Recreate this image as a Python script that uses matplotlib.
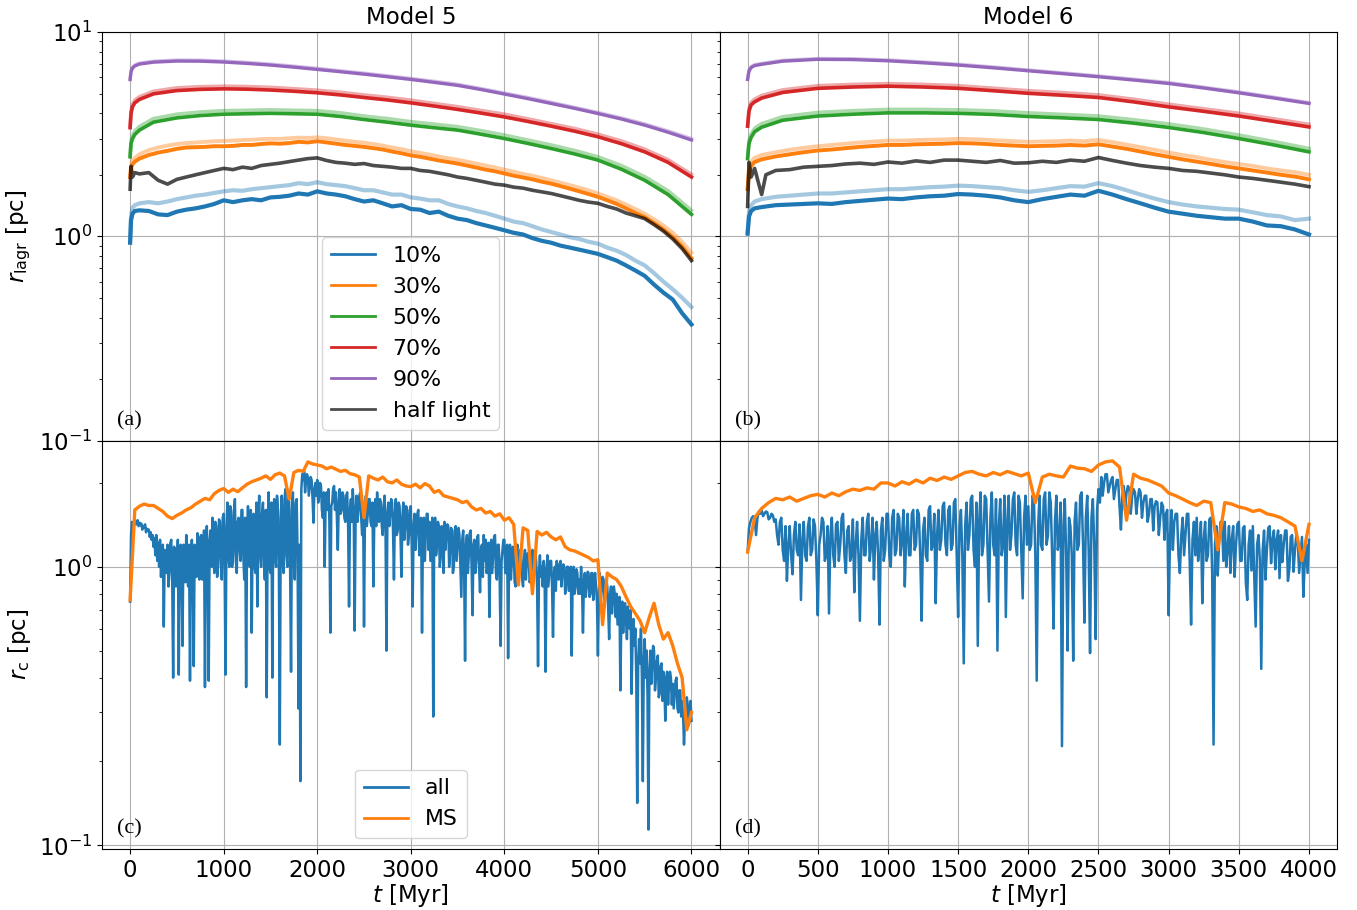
import numpy as np
import matplotlib
matplotlib.use("Agg")
import matplotlib.pyplot as plt

# ---------------- time grids ----------------
T5_FINE = [0, 10, 25, 50] + list(range(100, 6001, 100))
T5_COARSE = [0, 10, 25, 50, 100] + list(range(250, 6001, 250))
T6_FINE = [0, 10, 25, 50] + list(range(100, 4001, 100))
T6_COARSE = [0, 10, 25, 50, 100] + list(range(250, 4001, 250))
T6_HL = [0, 10, 25, 50, 75, 100, 130, 200] + list(range(300, 4001, 100))
RC_ALL_STEP = 10
RC_MS_STEP = 50

LAGR_LABELS = ["10%", "30%", "50%", "70%", "90%"]
RC_LABELS = ["all", "MS"]
TITLES = ["Model 5", "Model 6"]
PANEL_TAGS = ["(a)", "(b)", "(c)", "(d)"]

# ---------------- Model 5 Lagrangian radii ----------------
m5_r10 = [0.93, 1.20, 1.29, 1.33, 1.34, 1.33, 1.28, 1.27, 1.32, 1.35, 1.37, 1.40, 1.44, 1.50,
          1.47, 1.50, 1.52, 1.50, 1.55, 1.56, 1.58, 1.62, 1.60, 1.66, 1.62, 1.60, 1.57, 1.52,
          1.48, 1.50, 1.45, 1.40, 1.42, 1.36, 1.35, 1.30, 1.32, 1.26, 1.22, 1.20, 1.16, 1.13,
          1.10, 1.07, 1.04, 1.02, 0.98, 0.95, 0.93, 0.90, 0.88, 0.86, 0.84, 0.82, 0.79, 0.76,
          0.72, 0.68, 0.64, 0.58, 0.53, 0.49, 0.42, 0.37]
m5_r10_all = [0.95, 1.25, 1.38, 1.42, 1.45, 1.47, 1.45, 1.48, 1.52, 1.55, 1.58, 1.60, 1.63, 1.66,
              1.68, 1.67, 1.70, 1.72, 1.74, 1.76, 1.78, 1.82, 1.80, 1.84, 1.80, 1.78, 1.76, 1.72,
              1.68, 1.68, 1.64, 1.60, 1.60, 1.55, 1.53, 1.50, 1.50, 1.44, 1.40, 1.37, 1.33, 1.30,
              1.26, 1.22, 1.18, 1.16, 1.12, 1.08, 1.05, 1.02, 0.99, 0.97, 0.94, 0.92, 0.88, 0.85,
              0.81, 0.76, 0.72, 0.66, 0.60, 0.55, 0.50, 0.45]
m5_r30 = [1.95, 2.15, 2.25, 2.32, 2.40, 2.50, 2.57, 2.62, 2.68, 2.72, 2.73, 2.74, 2.76, 2.76,
          2.77, 2.80, 2.80, 2.83, 2.85, 2.84, 2.86, 2.90, 2.88, 2.92, 2.88, 2.84, 2.80, 2.77,
          2.74, 2.70, 2.66, 2.60, 2.55, 2.49, 2.45, 2.40, 2.35, 2.31, 2.27, 2.22, 2.17, 2.12,
          2.08, 2.03, 1.98, 1.94, 1.90, 1.85, 1.81, 1.76, 1.71, 1.66, 1.61, 1.56, 1.50, 1.44,
          1.37, 1.30, 1.24, 1.16, 1.08, 0.99, 0.89, 0.78]
m5_r30_all = [2.00, 2.22, 2.35, 2.42, 2.52, 2.64, 2.72, 2.78, 2.83, 2.86, 2.88, 2.90, 2.92, 2.93,
              2.94, 2.96, 2.97, 2.99, 3.00, 3.00, 3.02, 3.04, 3.03, 3.05, 3.02, 2.98, 2.94, 2.90,
              2.87, 2.83, 2.78, 2.72, 2.67, 2.61, 2.56, 2.51, 2.46, 2.41, 2.37, 2.32, 2.27, 2.22,
              2.17, 2.12, 2.07, 2.02, 1.98, 1.93, 1.88, 1.83, 1.78, 1.73, 1.68, 1.62, 1.56, 1.50,
              1.43, 1.36, 1.29, 1.21, 1.13, 1.04, 0.94, 0.83]
m5_rhl = [1.70, 2.20, 1.95, 2.05, 2.02, 2.05, 1.88, 1.80, 1.90, 1.95, 2.00, 2.05, 2.10, 2.15,
          2.12, 2.18, 2.15, 2.22, 2.25, 2.28, 2.32, 2.36, 2.40, 2.42, 2.35, 2.30, 2.28, 2.25,
          2.27, 2.22, 2.20, 2.18, 2.15, 2.15, 2.10, 2.08, 2.04, 2.00, 1.95, 1.92, 1.88, 1.84,
          1.80, 1.78, 1.74, 1.72, 1.68, 1.65, 1.62, 1.58, 1.54, 1.50, 1.47, 1.45, 1.40, 1.36,
          1.30, 1.26, 1.22, 1.14, 1.06, 0.97, 0.87, 0.76]
m5_r50 = [2.45, 2.85, 3.00, 3.15, 3.31, 3.62, 3.80, 3.90, 3.96, 3.98, 4.00, 3.98, 3.96, 3.86,
          3.73, 3.62, 3.50, 3.40, 3.31, 3.16, 3.01, 2.85, 2.69, 2.53, 2.36, 2.13, 1.88, 1.60, 1.28]
m5_r50_all = [2.50, 2.95, 3.12, 3.28, 3.45, 3.77, 3.96, 4.06, 4.12, 4.14, 4.16, 4.14, 4.12, 4.02,
              3.88, 3.77, 3.64, 3.54, 3.44, 3.29, 3.13, 2.96, 2.80, 2.63, 2.45, 2.22, 1.96, 1.67, 1.34]
m5_r70 = [3.40, 4.00, 4.30, 4.50, 4.68, 4.98, 5.17, 5.24, 5.27, 5.25, 5.20, 5.13, 5.04, 4.92,
          4.78, 4.65, 4.50, 4.34, 4.18, 4.01, 3.84, 3.65, 3.46, 3.27, 3.07, 2.84, 2.59, 2.30, 1.95]
m5_r70_all = [3.45, 4.12, 4.43, 4.64, 4.82, 5.13, 5.33, 5.40, 5.43, 5.41, 5.36, 5.28, 5.19, 5.07,
              4.92, 4.79, 4.64, 4.47, 4.31, 4.13, 3.96, 3.76, 3.56, 3.37, 3.16, 2.93, 2.67, 2.37, 2.01]
m5_r90 = [5.85, 6.40, 6.65, 6.82, 6.97, 7.12, 7.21, 7.20, 7.13, 7.02, 6.89, 6.73, 6.56, 6.39,
          6.22, 6.04, 5.86, 5.67, 5.48, 5.23, 4.97, 4.72, 4.47, 4.23, 3.99, 3.75, 3.50, 3.23, 2.96]
m5_r90_all = [5.90, 6.47, 6.72, 6.90, 7.04, 7.20, 7.29, 7.28, 7.21, 7.10, 6.97, 6.81, 6.64, 6.46,
              6.29, 6.11, 5.93, 5.74, 5.55, 5.29, 5.03, 4.78, 4.53, 4.28, 4.04, 3.80, 3.55, 3.28, 3.01]

# ---------------- Model 6 Lagrangian radii ----------------
m6_r10 = [1.03, 1.25, 1.33, 1.37, 1.39, 1.42, 1.43, 1.44, 1.45, 1.44, 1.47, 1.49, 1.51, 1.53,
          1.52, 1.55, 1.57, 1.58, 1.61, 1.60, 1.58, 1.55, 1.50, 1.47, 1.52, 1.56, 1.60, 1.58,
          1.67, 1.60, 1.52, 1.45, 1.38, 1.32, 1.29, 1.26, 1.24, 1.22, 1.22, 1.18, 1.13, 1.12,
          1.08, 1.02]
m6_r10_all = [1.05, 1.32, 1.42, 1.48, 1.52, 1.56, 1.58, 1.60, 1.62, 1.62, 1.64, 1.66, 1.68, 1.70,
              1.70, 1.72, 1.74, 1.75, 1.77, 1.76, 1.74, 1.72, 1.68, 1.65, 1.68, 1.72, 1.76, 1.75,
              1.82, 1.76, 1.68, 1.60, 1.53, 1.47, 1.43, 1.40, 1.38, 1.36, 1.35, 1.31, 1.27, 1.25,
              1.20, 1.22]
m6_r30 = [1.70, 2.05, 2.22, 2.31, 2.38, 2.46, 2.52, 2.58, 2.63, 2.66, 2.70, 2.74, 2.77, 2.80,
          2.80, 2.82, 2.83, 2.84, 2.86, 2.85, 2.83, 2.80, 2.78, 2.76, 2.77, 2.78, 2.80, 2.78,
          2.82, 2.75, 2.68, 2.60, 2.52, 2.45, 2.38, 2.32, 2.26, 2.20, 2.15, 2.10, 2.05, 2.00,
          1.96, 1.90]
m6_r30_all = [1.72, 2.12, 2.32, 2.42, 2.50, 2.58, 2.65, 2.71, 2.76, 2.80, 2.84, 2.88, 2.91, 2.94,
              2.94, 2.96, 2.97, 2.98, 3.00, 2.99, 2.97, 2.94, 2.92, 2.90, 2.91, 2.92, 2.94, 2.92,
              2.96, 2.89, 2.81, 2.73, 2.65, 2.57, 2.50, 2.44, 2.37, 2.31, 2.26, 2.21, 2.15, 2.10,
              2.06, 2.00]
m6_rhl = [1.40, 2.30, 1.95, 2.15, 1.85, 1.60, 2.00, 2.10, 2.12, 2.18, 2.20, 2.22, 2.26, 2.28,
          2.25, 2.31, 2.28, 2.34, 2.30, 2.36, 2.36, 2.33, 2.30, 2.35, 2.28, 2.29, 2.33, 2.30,
          2.36, 2.33, 2.43, 2.35, 2.28, 2.22, 2.18, 2.15, 2.10, 2.08, 2.04, 2.00, 1.95, 1.92,
          1.88, 1.84, 1.80, 1.75]
m6_r50 = [2.40, 2.85, 3.05, 3.25, 3.42, 3.70, 3.88, 3.96, 4.02, 4.02, 4.00, 3.95, 3.86, 3.80,
          3.73, 3.58, 3.41, 3.22, 3.01, 2.80, 2.59]
m6_r50_all = [2.45, 2.95, 3.17, 3.38, 3.56, 3.85, 4.04, 4.12, 4.18, 4.18, 4.16, 4.11, 4.02, 3.95,
              3.88, 3.72, 3.55, 3.35, 3.13, 2.91, 2.69]
m6_r70 = [3.46, 4.10, 4.40, 4.55, 4.75, 5.06, 5.30, 5.38, 5.43, 5.38, 5.30, 5.16, 5.01, 4.90,
          4.78, 4.55, 4.30, 4.09, 3.88, 3.65, 3.43]
m6_r70_all = [3.50, 4.22, 4.53, 4.69, 4.89, 5.21, 5.46, 5.54, 5.59, 5.54, 5.46, 5.31, 5.16, 5.05,
              4.92, 4.69, 4.43, 4.21, 4.00, 3.76, 3.53]
m6_r90 = [5.86, 6.45, 6.70, 6.85, 6.95, 7.20, 7.35, 7.33, 7.23, 7.07, 6.89, 6.68, 6.46, 6.25,
          6.04, 5.82, 5.60, 5.32, 5.04, 4.75, 4.47]
m6_r90_all = [5.92, 6.51, 6.77, 6.92, 7.02, 7.27, 7.42, 7.40, 7.30, 7.14, 6.96, 6.75, 6.52, 6.31,
              6.10, 5.88, 5.66, 5.37, 5.09, 4.80, 4.51]

# ---------------- core radii (all stars, every 10 Myr) ----------------
m5_rc_all = [
    0.75, 1.30, 1.45, 1.38, 1.40, 1.44, 1.46, 1.42, 1.47, 1.40, 1.44, 1.41, 1.43, 1.36, 1.40, 1.38, 1.42, 1.33, 1.37, 1.35,
    1.36, 1.28, 1.33, 1.25, 1.30, 1.18, 1.27, 1.10, 1.30, 1.05, 1.22, 1.00, 1.25, 0.92, 1.10, 1.20, 0.61, 1.15, 1.05, 0.95,
    1.20, 0.85, 0.95, 1.22, 1.25, 0.90, 0.40, 1.18, 1.15, 0.85, 0.90, 1.25, 0.41, 1.10, 1.20, 0.95, 0.52, 1.20, 1.10, 0.88,
    1.30, 1.00, 0.85, 1.20, 0.39, 1.10, 1.25, 0.95, 0.44, 1.20, 1.10, 0.92, 1.32, 1.00, 0.90, 1.28, 1.30, 0.90, 0.95, 1.35,
    0.37, 1.20, 1.40, 0.95, 0.39, 1.25, 1.35, 1.00, 1.50, 1.10, 0.95, 1.45, 1.40, 0.92, 1.00, 1.48, 1.45, 1.05, 0.90, 1.50,
    1.55, 1.00, 0.41, 1.40, 1.70, 1.10, 1.00, 1.65, 1.60, 1.00, 1.10, 1.55, 1.75, 1.05, 0.95, 1.45, 1.50, 1.15, 1.05, 1.60,
    1.60, 1.10, 0.90, 1.50, 0.37, 1.30, 1.65, 1.05, 1.00, 1.60, 0.58, 1.40, 1.55, 1.00, 0.95, 1.70, 0.72, 1.50, 1.80, 1.10,
    1.00, 1.55, 1.70, 1.05, 0.90, 1.60, 0.34, 1.40, 1.85, 1.00, 0.95, 1.70, 0.40, 1.50, 1.75, 1.10, 1.00, 1.80, 1.60, 1.05,
    0.23, 1.50, 1.80, 1.05, 0.95, 1.75, 1.90, 1.10, 1.00, 1.80, 1.70, 1.00, 0.42, 1.60, 1.85, 1.05, 0.90, 1.70, 1.75, 1.10,
    0.31, 1.20, 0.17, 1.90, 2.15, 2.05, 2.20, 1.85, 2.05, 2.15, 2.10, 1.80, 1.95, 2.10, 2.05, 1.75, 1.44, 1.90, 2.00, 1.80,
    2.05, 1.70, 1.80, 2.00, 1.95, 1.60, 1.50, 1.85, 1.00, 1.75, 1.85, 1.60, 1.90, 1.45, 0.58, 1.65, 1.70, 1.90, 1.95, 1.60,
    1.85, 1.50, 1.15, 1.70, 1.90, 1.55, 1.60, 1.85, 1.80, 1.50, 1.45, 1.80, 1.85, 1.40, 0.72, 1.60, 1.75, 1.45, 1.90, 1.60,
    0.59, 1.50, 1.80, 1.45, 1.60, 1.80, 1.85, 1.50, 1.30, 1.70, 0.61, 1.55, 1.80, 1.40, 1.55, 1.75, 1.75, 1.45, 1.40, 1.70,
    0.85, 1.50, 1.75, 1.40, 1.85, 1.55, 1.45, 1.75, 1.70, 1.40, 1.30, 1.65, 1.80, 1.35, 0.50, 1.55, 1.70, 1.40, 1.55, 1.75,
    1.70, 1.35, 0.90, 1.55, 1.75, 1.30, 1.35, 1.70, 1.65, 1.30, 0.92, 1.50, 1.70, 1.25, 1.40, 1.65, 1.60, 1.20, 1.30, 1.60,
    1.65, 1.20, 0.72, 1.40, 1.55, 1.15, 1.35, 1.55, 1.60, 1.10, 1.20, 1.50, 0.58, 1.35, 1.50, 1.05, 1.30, 1.55, 1.55, 1.15,
    1.45, 1.05, 1.25, 1.50, 0.29, 1.30, 1.50, 1.10, 1.20, 1.45, 1.40, 1.00, 1.10, 1.40, 1.25, 0.95, 1.45, 1.15, 1.30, 1.42,
    1.40, 1.00, 1.15, 1.38, 1.35, 0.95, 1.00, 1.35, 1.40, 1.05, 1.20, 1.38, 1.30, 1.00, 0.78, 1.25, 1.35, 1.00, 0.46, 1.20,
    1.30, 0.95, 1.10, 1.32, 1.35, 1.00, 0.67, 1.20, 1.25, 0.95, 1.05, 1.28, 1.30, 1.00, 0.81, 1.15, 1.20, 0.92, 1.30, 1.05,
    1.25, 0.95, 1.00, 1.22, 0.66, 1.10, 1.25, 0.95, 1.10, 1.28, 1.30, 0.95, 0.90, 1.20, 1.20, 0.90, 0.52, 1.05, 1.15, 1.25,
    1.25, 0.95, 0.95, 1.20, 0.47, 1.00, 1.20, 0.90, 1.05, 1.18, 1.15, 0.88, 0.85, 1.15, 1.20, 0.90, 1.00, 1.15, 1.10, 0.90,
    0.85, 1.05, 1.15, 0.90, 1.05, 1.12, 1.10, 0.88, 0.90, 1.10, 1.15, 0.90, 1.00, 1.12, 1.05, 0.85, 0.44, 0.95, 1.10, 0.92,
    1.00, 0.85, 1.05, 0.95, 0.42, 0.95, 1.10, 0.85, 0.95, 1.05, 1.05, 0.85, 0.56, 0.95, 1.00, 0.82, 1.05, 0.95, 0.90, 1.02,
    1.05, 0.85, 0.95, 1.02, 1.00, 0.80, 0.85, 1.00, 1.00, 0.82, 0.90, 1.00, 0.48, 0.90, 1.00, 0.80, 0.85, 0.98, 0.95, 0.80,
    0.90, 0.80, 1.00, 0.85, 0.58, 0.88, 0.95, 0.78, 0.85, 0.96, 0.95, 0.78, 0.80, 0.95, 0.95, 0.76, 0.90, 0.95, 0.85, 0.75,
    0.48, 0.80, 0.95, 0.75, 0.85, 0.92, 0.90, 0.72, 0.80, 0.90, 0.85, 0.70, 0.55, 0.80, 0.85, 0.68, 0.75, 0.85, 0.80, 0.66,
    0.80, 0.62, 0.70, 0.78, 0.36, 0.65, 0.75, 0.58, 0.70, 0.74, 0.65, 0.55, 0.72, 0.62, 0.60, 0.70, 0.35, 0.55, 0.65, 0.52,
    0.60, 0.40, 0.142, 0.45, 0.55, 0.45, 0.60, 0.40, 0.17, 0.45, 0.55, 0.40, 0.50, 0.35, 0.114, 0.42, 0.50, 0.38, 0.45, 0.52,
    0.50, 0.36, 0.40, 0.46, 0.48, 0.34, 0.35, 0.44, 0.45, 0.33, 0.42, 0.38, 0.28, 0.40, 0.42, 0.32, 0.38, 0.42, 0.40, 0.32,
    0.38, 0.31, 0.35, 0.39, 0.40, 0.31, 0.30, 0.36, 0.36, 0.29, 0.33, 0.30, 0.23, 0.28, 0.30, 0.34, 0.32, 0.27, 0.28, 0.33,
    0.28]
m6_rc_all = [
    1.13, 1.38, 1.45, 1.50, 1.52, 1.48, 1.30, 1.50, 1.58, 1.55, 1.60, 1.52, 1.55, 1.58, 1.57, 1.48, 1.50, 1.55, 1.53, 1.45,
    1.48, 1.30, 1.20, 1.45, 1.50, 1.15, 1.05, 1.40, 0.89, 1.20, 1.40, 1.10, 0.94, 1.30, 1.45, 1.15, 1.10, 1.42, 0.76, 1.25,
    1.45, 1.10, 1.05, 1.40, 1.50, 1.10, 1.15, 1.48, 1.40, 1.05, 0.67, 1.20, 1.30, 1.50, 1.45, 1.05, 1.10, 1.40, 0.68, 1.30,
    1.50, 1.10, 1.00, 1.42, 1.45, 1.05, 1.20, 1.50, 1.55, 1.10, 0.95, 1.35, 1.40, 1.05, 1.10, 1.48, 0.81, 1.20, 1.45, 1.10,
    0.64, 1.25, 1.50, 1.10, 1.10, 1.45, 1.55, 1.05, 1.20, 1.50, 0.90, 1.30, 1.45, 1.10, 0.62, 1.35, 1.50, 1.05, 1.15, 1.55,
    1.55, 1.10, 1.00, 1.50, 1.60, 1.10, 1.15, 1.55, 1.50, 1.10, 1.25, 1.60, 0.85, 1.30, 1.55, 1.10, 1.10, 1.55, 1.60, 1.15,
    1.20, 1.60, 1.55, 1.10, 0.64, 1.35, 1.50, 1.10, 1.05, 1.60, 1.65, 1.15, 1.20, 1.55, 0.74, 1.30, 1.60, 1.15, 1.25, 1.65,
    1.70, 1.20, 1.10, 1.60, 1.65, 1.15, 1.20, 1.70, 1.75, 1.10, 0.66, 1.40, 1.60, 1.10, 0.45, 1.40, 1.70, 1.15, 1.30, 1.75,
    1.80, 1.15, 1.00, 1.70, 0.52, 1.45, 1.85, 1.10, 1.20, 1.80, 1.75, 1.15, 0.75, 1.50, 1.85, 1.20, 1.10, 1.75, 0.50, 1.40,
    1.75, 1.10, 1.20, 1.80, 0.66, 1.45, 1.80, 1.15, 1.30, 1.75, 1.85, 1.20, 1.10, 1.80, 1.70, 1.15, 0.77, 1.50, 1.80, 1.20,
    1.65, 1.15, 1.20, 1.80, 1.75, 1.10, 0.39, 1.40, 1.80, 1.20, 1.15, 1.75, 1.85, 1.20, 1.30, 1.85, 1.70, 1.10, 0.60, 1.45,
    1.80, 1.15, 1.25, 1.70, 0.227, 1.40, 1.75, 1.10, 0.50, 1.50, 1.40, 1.10, 0.46, 1.45, 1.70, 1.15, 1.20, 1.80, 1.85, 1.20,
    0.63, 1.50, 1.80, 1.15, 0.49, 1.50, 1.75, 1.20, 0.55, 1.60, 1.90, 1.70, 2.10, 1.80, 2.00, 2.15, 2.15, 1.85, 1.95, 2.05,
    2.10, 1.75, 1.90, 2.05, 2.05, 1.65, 1.36, 1.80, 1.95, 1.60, 1.85, 1.95, 1.90, 1.55, 1.80, 1.90, 1.85, 1.55, 1.75, 1.90,
    1.85, 1.50, 1.70, 1.80, 1.80, 1.45, 1.55, 1.75, 1.75, 1.35, 1.65, 1.72, 1.70, 1.30, 1.50, 1.70, 1.65, 1.25, 1.55, 1.60,
    0.67, 1.30, 1.60, 1.15, 1.45, 1.55, 1.55, 1.10, 0.95, 1.30, 1.50, 1.10, 1.30, 1.55, 1.55, 1.05, 0.62, 1.25, 1.45, 1.10,
    1.50, 1.05, 1.20, 1.45, 0.74, 1.25, 1.45, 1.05, 1.10, 1.48, 1.50, 0.96, 0.23, 1.20, 1.40, 0.93, 1.25, 1.45, 1.45, 1.05,
    1.45, 1.00, 1.15, 1.40, 0.95, 1.25, 1.40, 0.92, 1.20, 1.42, 1.45, 1.05, 1.05, 1.38, 1.40, 0.88, 0.76, 1.20, 1.35, 0.97,
    1.40, 0.93, 0.61, 1.20, 1.30, 1.06, 0.43, 1.15, 1.35, 0.90, 1.15, 1.38, 1.40, 1.03, 1.25, 1.35, 0.98, 1.25, 1.35, 0.91,
    1.30, 1.04, 1.20, 1.35, 1.35, 0.89, 0.98, 1.28, 1.30, 0.96, 1.15, 1.30, 1.25, 0.95, 1.10, 1.28, 0.78, 1.05, 1.20, 0.95,
    1.25]

# ---------------- core radii (main-sequence stars, every 50 Myr) ----------------
m5_rc_ms = [
    0.76, 1.60, 1.65, 1.68, 1.66, 1.66, 1.62, 1.58, 1.52, 1.49,
    1.53, 1.56, 1.60, 1.63, 1.68, 1.72, 1.76, 1.74, 1.83, 1.88,
    1.91, 1.85, 1.90, 1.86, 1.92, 1.98, 2.02, 2.05, 2.08, 2.12,
    2.06, 2.14, 2.17, 2.12, 1.75, 2.18, 2.22, 2.20, 2.38, 2.34,
    2.32, 2.30, 2.25, 2.28, 2.24, 2.20, 2.22, 2.16, 2.14, 2.10,
    1.50, 2.12, 2.08, 2.05, 2.10, 2.02, 2.00, 2.05, 1.98, 1.95,
    1.94, 1.98, 1.92, 1.99, 1.95, 1.85, 1.88, 1.80, 1.78, 1.76,
    1.74, 1.70, 1.72, 1.64, 1.60, 1.62, 1.56, 1.58, 1.52, 1.55,
    1.47, 1.50, 1.42, 0.86, 1.38, 1.35, 0.80, 1.34, 1.30, 1.33,
    1.28, 1.25, 1.28, 1.18, 1.15, 1.14, 1.12, 1.10, 1.08, 1.05,
    1.06, 0.62, 0.95, 0.92, 0.90, 0.85, 0.78, 0.72, 0.68, 0.64,
    0.58, 0.66, 0.74, 0.62, 0.55, 0.58, 0.52, 0.45, 0.40, 0.26,
    0.30]
m6_rc_ms = [
    1.13, 1.50, 1.62, 1.70, 1.76, 1.74, 1.78, 1.72, 1.76, 1.80,
    1.82, 1.78, 1.84, 1.80, 1.86, 1.90, 1.88, 1.92, 1.90, 2.00,
    2.00, 1.95, 2.02, 1.98, 2.05, 2.00, 2.08, 2.04, 2.10, 2.06,
    2.12, 2.18, 2.20, 2.15, 2.12, 2.18, 2.14, 2.20, 2.16, 2.12,
    2.17, 1.70, 2.10, 2.15, 2.12, 2.10, 2.30, 2.26, 2.25, 2.20,
    2.32, 2.38, 2.40, 2.28, 1.47, 2.15, 2.08, 2.05, 2.00, 1.95,
    1.84, 1.80, 1.75, 1.70, 1.66, 1.72, 1.70, 1.15, 1.70, 1.68,
    1.64, 1.62, 1.58, 1.60, 1.55, 1.53, 1.50, 1.45, 1.40, 1.05,
    1.42]

COLORS = ["tab:blue", "tab:orange", "tab:green", "tab:red", "tab:purple"]
LW_SOLID = [3.0, 2.8, 2.6, 2.6, 2.4]

FS = 16.5
FS_LEG = 15.8
plt.rcParams["font.family"] = ["DejaVu Sans"]
plt.rcParams["mathtext.fontset"] = "dejavusans"

fig, axes = plt.subplots(2, 2, figsize=(13.57, 9.10), dpi=100, sharex="col", sharey="row",
                         gridspec_kw=dict(left=0.0752, right=0.9853, top=0.9648, bottom=0.067,
                                          wspace=0.0, hspace=0.0))

models = [
    dict(fine=T5_FINE, coarse=T5_COARSE, thl=T5_FINE,
         solid=[m5_r10, m5_r30, m5_r50, m5_r70, m5_r90],
         light=[m5_r10_all, m5_r30_all, m5_r50_all, m5_r70_all, m5_r90_all],
         hl=m5_rhl, rc_all=m5_rc_all, rc_ms=m5_rc_ms,
         xticks=list(range(0, 6001, 1000))),
    dict(fine=T6_FINE, coarse=T6_COARSE, thl=T6_HL,
         solid=[m6_r10, m6_r30, m6_r50, m6_r70, m6_r90],
         light=[m6_r10_all, m6_r30_all, m6_r50_all, m6_r70_all, m6_r90_all],
         hl=m6_rhl, rc_all=m6_rc_all, rc_ms=m6_rc_ms,
         xticks=list(range(0, 4001, 500))),
]

for j, m in enumerate(models):
    ax = axes[0, j]
    for i in range(5):
        tt = m["fine"] if i < 2 else m["coarse"]
        ax.plot(tt, m["light"][i], color=COLORS[i], alpha=0.4, lw=LW_SOLID[i])
    for i in range(5):
        tt = m["fine"] if i < 2 else m["coarse"]
        ax.plot(tt, m["solid"][i], color=COLORS[i], lw=LW_SOLID[i], label=LAGR_LABELS[i])
    ax.plot(m["thl"], m["hl"], color="k", alpha=0.7, lw=2.6, label="half light")
    ax.set_yscale("log")
    ax.set_ylim(0.1, 10)
    ax.set_title(TITLES[j], fontsize=FS)

    axb = axes[1, j]
    t_all = np.arange(len(m["rc_all"])) * RC_ALL_STEP
    t_ms = np.arange(len(m["rc_ms"])) * RC_MS_STEP
    axb.plot(t_all, m["rc_all"], color="tab:blue", lw=1.8, label=RC_LABELS[0])
    axb.plot(t_ms, m["rc_ms"], color="tab:orange", lw=2.4, label=RC_LABELS[1])
    axb.set_yscale("log")
    axb.set_ylim(0.097, 2.84)
    axb.set_xticks(m["xticks"])
    axb.set_xlabel(r"$t$ [Myr]", fontsize=FS, labelpad=0.5)

axes[1, 0].set_xlim(-300, 6300)
axes[1, 1].set_xlim(-200, 4200)

axes[0, 0].set_ylabel(r"$r_\mathrm{lagr}$ [pc]", fontsize=FS)
axes[1, 0].set_ylabel(r"$r_\mathrm{c}$ [pc]", fontsize=FS)

for k, ax in enumerate(axes.flat):
    ax.grid(True)
    ax.tick_params(labelsize=FS)
    ax.text(0.025, 0.025, PANEL_TAGS[k], transform=ax.transAxes, fontsize=16,
            family=["Liberation Serif"], ha="left", va="bottom")

leg_kw = dict(loc="lower center", fontsize=FS_LEG)
leg_top = axes[0, 0].legend(**leg_kw)
for h in leg_top.legend_handles:
    h.set_linewidth(2.0)
leg_bot = axes[1, 0].legend(**leg_kw)
for h in leg_bot.legend_handles:
    h.set_linewidth(2.0)

fig.savefig("out.png", dpi=100)
